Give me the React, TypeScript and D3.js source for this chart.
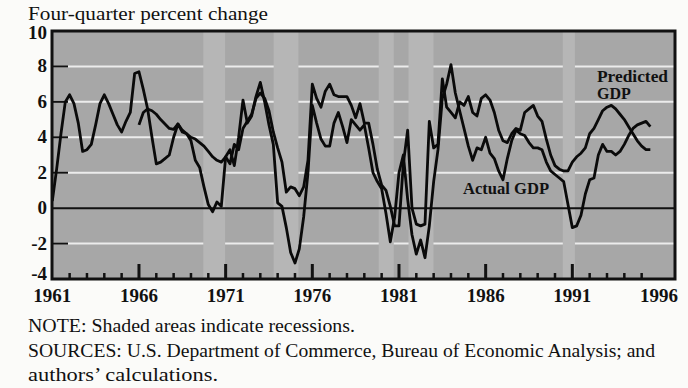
import React from 'react';
import * as d3 from 'd3';

const W = 688;
const H = 388;

// quarterly four-quarter % change, first value is 1961:Q1
const actualStart = 1961;
const actualGdp = [
  0.4, 2.2, 4.2, 6.0,
  6.4, 5.9, 4.8, 3.2,
  3.3, 3.6, 4.7, 5.9,
  6.4, 5.9, 5.3, 4.7,
  4.3, 4.9, 5.4, 7.6,
  7.7, 6.7, 5.6, 4.0,
  2.5, 2.6, 2.8, 3.0,
  4.0, 4.75, 4.3, 4.2,
  3.8, 2.7, 2.3, 1.2,
  0.2, -0.2, 0.35, 0.1,
  2.9, 3.3, 2.4, 4.0,
  6.1, 4.8, 5.2, 6.3,
  7.1, 6.0, 4.7, 3.6,
  0.3, 0.1, -1.1, -2.5,
  -3.1, -2.3, -0.5, 2.0,
  5.8, 4.8, 3.9, 3.5,
  3.5, 4.8, 5.4, 4.6,
  3.7, 5.0, 4.7, 4.4,
  4.7, 3.4, 2.0, 1.5,
  1.1, -0.3, -1.9, -0.5,
  2.0, 3.0, 0.5, -1.5,
  -2.6, -1.8, -2.8, -1.0,
  1.5, 3.3, 6.2, 7.0,
  8.1, 6.5, 5.5, 4.5,
  3.5, 2.7, 3.4, 3.3,
  4.0, 3.1, 2.8, 2.1,
  1.6, 2.8, 3.8, 4.4,
  4.2, 4.1, 3.7, 3.4,
  3.4, 3.3, 2.6, 2.1,
  1.9, 1.7, 1.5, 0.2,
  -1.1, -1.0, -0.4, 0.8,
  1.6, 1.7, 3.0, 3.6,
  3.2, 3.2, 3.0, 3.2,
  3.6, 4.1, 4.5, 4.7,
  4.8, 4.9, 4.6,
];

// first value is 1966:Q1
const predictedStart = 1966;
const predictedGdp = [
  4.7, 5.4, 5.6, 5.5,
  5.3, 5.0, 4.75, 4.5,
  4.45, 4.75, 4.4, 4.2,
  4.0, 3.9, 3.7, 3.5,
  3.2, 2.9, 2.7, 2.6,
  2.9, 2.5, 3.6, 3.3,
  4.5, 4.9, 5.3, 6.2,
  6.5, 6.2, 5.5, 4.3,
  3.4, 2.6, 0.9, 1.2,
  1.1, 0.7, 1.2, 2.7,
  7.0, 6.2, 5.7, 6.6,
  7.0, 6.4, 6.3, 6.3,
  6.3, 5.8, 5.1, 5.9,
  4.8, 4.8, 3.6, 2.2,
  1.3, 1.0, 0.1, -1.0,
  -1.0, 2.5, 4.4, 0.0,
  -0.9, -1.0, -0.9, 4.9,
  3.4, 3.6, 7.3, 5.7,
  5.4, 5.1, 6.0, 5.8,
  6.3, 5.4, 5.2, 6.2,
  6.4, 6.1, 5.4, 4.4,
  3.8, 3.7, 4.2, 4.5,
  4.4, 5.4, 5.6, 5.8,
  5.2, 4.9, 3.9, 3.0,
  2.4, 2.2, 2.1, 2.1,
  2.6, 2.9, 3.1, 3.4,
  4.2, 4.5, 5.0, 5.5,
  5.7, 5.8, 5.6, 5.3,
  5.0, 4.6, 4.2, 3.8,
  3.5, 3.3, 3.3,
];

const recessions = [
  [1969.71, 1970.97],
  [1973.77, 1975.2],
  [1979.83, 1980.7],
  [1981.55, 1982.99],
  [1990.45, 1991.15],
];

const yTicks = [10, 8, 6, 4, 2, 0, -2, -4];
const gridValues = [8, 6, 4, 2, -2];
const xLabels = [1961, 1966, 1971, 1976, 1981, 1986, 1991, 1996];
const yearTicks = d3.range(1962, 1996);

const left = 52;
const right = 675;
const top = 31;
const bottom = 279;

const serif = '"Liberation Serif", "DejaVu Serif", serif';

export default function App() {
  const x = d3.scaleLinear().domain([1961, 1996]).range([52.3, 659]);
  const y = d3.scaleLinear().domain([-4, 10]).range([bottom, top]);

  const lineFrom = (start: number) =>
    d3
      .line<number>()
      .x((d, i) => x(start + i / 4))
      .y((d) => y(d));

  const actualPath = lineFrom(actualStart)(actualGdp) || '';
  const predictedPath = lineFrom(predictedStart)(predictedGdp) || '';

  return (
    <svg
      width={W}
      height={H}
      style={{ position: 'absolute', left: 0, top: 0, background: '#fbfbf9' }}
      fontFamily={serif}
    >
      <defs>
        <clipPath id="plot">
          <rect x={left} y={top} width={right - left} height={bottom - top} />
        </clipPath>
      </defs>

      {/* title */}
      <text x={28} y={20} fontSize={18} textLength={240} lengthAdjust="spacingAndGlyphs" fill="#111">
        Four-quarter percent change
      </text>

      {/* plot background */}
      <rect x={left} y={top} width={right - left} height={bottom - top} fill="#a7a7a7" />

      {/* white grid lines */}
      {gridValues.map((v) => (
        <line key={v} x1={left} x2={right} y1={y(v)} y2={y(v)} stroke="#ececec" strokeWidth={2} />
      ))}

      {/* recession shading */}
      {recessions.map(([a, b], i) => (
        <rect key={i} x={x(a)} y={top} width={x(b) - x(a)} height={bottom - top} fill="#b6b6b6" />
      ))}

      {/* zero line */}
      <line x1={left} x2={right} y1={y(0)} y2={y(0)} stroke="#111" strokeWidth={2} />

      {/* left ticks */}
      {gridValues.map((v) => (
        <line key={v} x1={left} x2={left + 16} y1={y(v)} y2={y(v)} stroke="#111" strokeWidth={2} />
      ))}

      {/* bottom ticks */}
      {yearTicks.map((yr) => {
        const major = (yr - 1961) % 5 === 0;
        return (
          <line
            key={yr}
            x1={x(yr)}
            x2={x(yr)}
            y1={bottom}
            y2={bottom - (major ? 15 : 6)}
            stroke="#111"
            strokeWidth={major ? 3 : 2.5}
          />
        );
      })}

      {/* series */}
      <g clipPath="url(#plot)" fill="none" stroke="#0a0a0a" strokeWidth={2.8} strokeLinejoin="round">
        <path d={predictedPath} />
        <path d={actualPath} />
      </g>

      {/* frame */}
      <rect
        x={left}
        y={top}
        width={right - left}
        height={bottom - top}
        fill="none"
        stroke="#111"
        strokeWidth={3}
      />

      {/* series labels */}
      <g fontWeight="bold" fontSize={16} fill="#111">
        <text x={597} y={82} textLength={71} lengthAdjust="spacingAndGlyphs">Predicted</text>
        <text x={597} y={99}>GDP</text>
        <text x={463} y={194} textLength={86} lengthAdjust="spacingAndGlyphs">Actual GDP</text>
      </g>

      {/* y labels */}
      <g fontWeight="bold" fontSize={19} fill="#111" textAnchor="end">
        {yTicks.map((v) => (
          <text key={v} x={47} y={y(v) + (v === 10 ? 8 : v === -4 ? 1 : 6)}>
            {v}
          </text>
        ))}
      </g>

      {/* x labels */}
      <g fontWeight="bold" fontSize={19} fill="#111" textAnchor="middle">
        {xLabels.map((yr) => (
          <text key={yr} x={x(yr)} y={302}>
            {yr}
          </text>
        ))}
      </g>

      {/* notes */}
      <g fontSize={18} fill="#111">
        <text x={28} y={332} textLength={327} lengthAdjust="spacingAndGlyphs">
          NOTE:  Shaded areas indicate recessions.
        </text>
        <text x={28} y={357} textLength={627} lengthAdjust="spacingAndGlyphs">
          SOURCES:  U.S. Department of Commerce, Bureau of Economic Analysis; and
        </text>
        <text x={28} y={381} textLength={190} lengthAdjust="spacingAndGlyphs">
          authors’ calculations.
        </text>
      </g>
    </svg>
  );
}
